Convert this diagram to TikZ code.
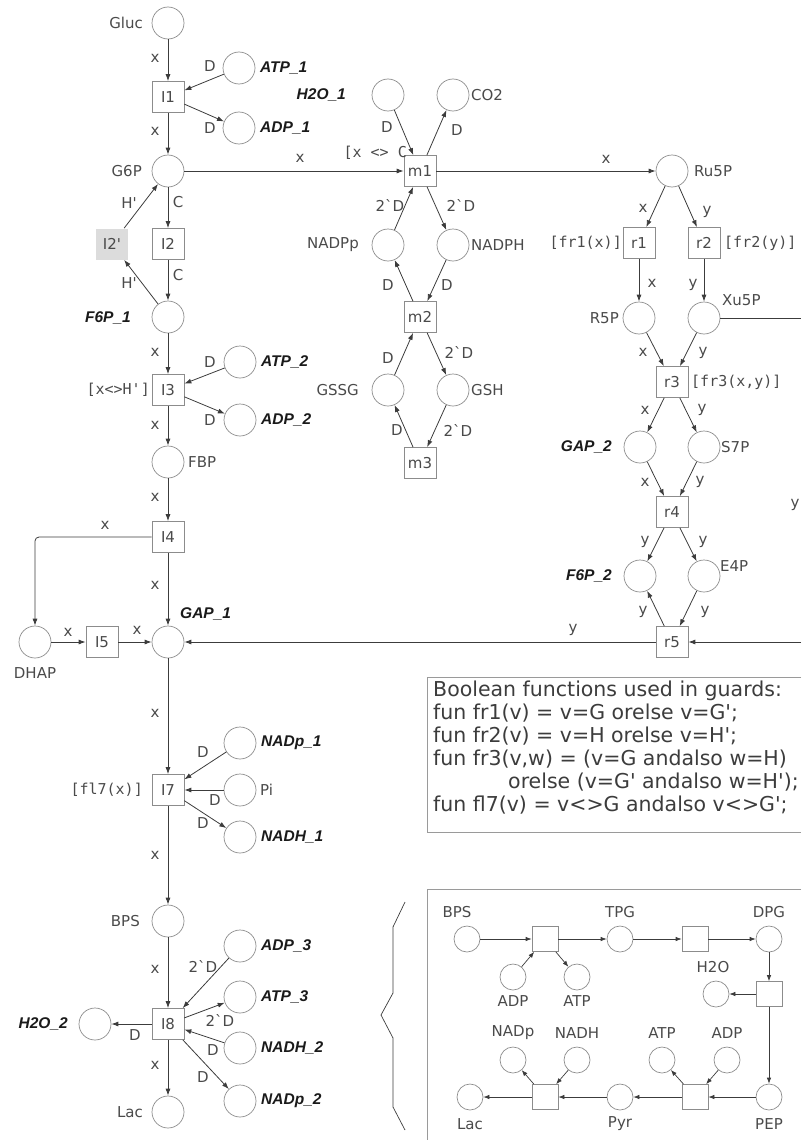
\documentclass[tikz,border=0pt]{standalone}
\usepackage{fontspec}
\newfontfamily\labfam{DejaVu Sans}
\newfontfamily\bifam{Liberation Sans}
\newfontfamily\monofam{DejaVu Sans Mono}
\usetikzlibrary{arrows.meta}
\definecolor{placec}{HTML}{8C8C8C}
\definecolor{transc}{HTML}{8C8C8C}
\definecolor{arcc}{HTML}{3C3C3C}
\definecolor{txt}{HTML}{4A4A4A}
\definecolor{dark}{HTML}{1A1A1A}
\definecolor{grayfill}{HTML}{DCDCDC}
\definecolor{boxc}{HTML}{9A9A9A}
\newcommand\labfont{\labfam\fontsize{15}{17}\selectfont}
\newcommand\bilabfont{\bifam\bfseries\itshape\fontsize{15.5}{17}\selectfont}
\newcommand\guardfont{\monofam\fontsize{15}{17}\selectfont}
\newcommand\boolfont{\labfam\fontsize{20.5}{23}\selectfont}
\begin{document}
\begin{tikzpicture}[x=1pt,y=-1pt,
  place/.style={circle,draw=placec,minimum size=32pt,inner sep=0pt,line width=0.7pt},
  splace/.style={circle,draw=placec,minimum size=26pt,inner sep=0pt,line width=0.7pt},
  trans/.style={rectangle,draw=transc,minimum width=32pt,minimum height=31pt,inner sep=0pt,line width=0.7pt,font=\labfont,text=txt},
  strans/.style={rectangle,draw=transc,minimum width=26pt,minimum height=25pt,inner sep=0pt,line width=0.7pt},
  lab/.style={font=\labfont,text=txt,inner sep=0pt},
  blab/.style={font=\bilabfont,text=dark,inner sep=0pt},
  guard/.style={font=\guardfont,text=txt,inner sep=0pt},
  arc/.style={draw=arcc,line width=0.8pt,-{Latex[length=7pt,width=5pt]}},
  sarc/.style={draw=arcc,line width=0.7pt,-{Latex[length=6pt,width=4.5pt]}},
  plain/.style={draw=arcc,line width=0.8pt}]
\useasboundingbox (0,0) rectangle (801,1140);

% ---------------- main column (glycolysis) ----------------
\node[place] (Gluc) at (168,23) {};
\node[lab,anchor=east] (LGluc) at (143,23) {Gluc};
\node[trans] (I1) at (168,97) {I1};
\node[place] (ATP1) at (239,68) {};
\node[blab,anchor=west] (LATP1) at (260,68) {ATP\_1};
\node[place] (ADP1) at (239,128) {};
\node[blab,anchor=west] (LADP1) at (260,128) {ADP\_1};
\node[place] (G6P) at (168,171) {};
\node[lab,anchor=east] (LG6P) at (142,171) {G6P};
\node[trans,fill=grayfill,draw=none] (I2p) at (112,244) {I2'};
\node[trans] (I2) at (168,244) {I2};
\node[place] (F6P1) at (168,317) {};
\node[blab,anchor=east] (LF6P1) at (131,318) {F6P\_1};
\node[trans] (I3) at (168,390) {I3};
\node[guard,anchor=east] (GI3) at (150,390) {[x<>H']};
\node[place] (ATP2) at (240,362) {};
\node[blab,anchor=west] (LATP2) at (261,362) {ATP\_2};
\node[place] (ADP2) at (240,420) {};
\node[blab,anchor=west] (LADP2) at (261,420) {ADP\_2};
\node[place] (FBP) at (168,462) {};
\node[lab,anchor=west] (LFBP) at (188,462) {FBP};
\node[trans] (I4) at (168,537) {I4};
\node[place] (GAP1) at (168,642) {};
\node[blab,anchor=west] (LGAP1) at (180,614) {GAP\_1};
\node[trans] (I5) at (102,642) {I5};
\node[place] (DHAP) at (35,642) {};
\node[lab] (LDHAP) at (35,673) {DHAP};
\node[trans] (I7) at (168,790) {I7};
\node[guard,anchor=east] (GI7) at (143,790) {[fl7(x)]};
\node[place] (NADp1) at (240,743) {};
\node[blab,anchor=west] (LNADp1) at (261,743) {NADp\_1};
\node[place] (Pi) at (240,790) {};
\node[lab,anchor=west] (LPi) at (260,790) {Pi};
\node[place] (NADH1) at (240,837) {};
\node[blab,anchor=west] (LNADH1) at (261,837) {NADH\_1};
\node[place] (BPS) at (168,921) {};
\node[lab,anchor=east] (LBPS) at (140,921) {BPS};
\node[trans] (I8) at (168,1024) {I8};
\node[place] (ADP3) at (240,946) {};
\node[blab,anchor=west] (LADP3) at (261,946) {ADP\_3};
\node[place] (ATP3) at (240,997) {};
\node[blab,anchor=west] (LATP3) at (261,997) {ATP\_3};
\node[place] (NADH2) at (240,1048) {};
\node[blab,anchor=west] (LNADH2) at (261,1048) {NADH\_2};
\node[place] (NADp2) at (240,1101) {};
\node[blab,anchor=west] (LNADp2) at (261,1101) {NADp\_2};
\node[place] (H2O2) at (95,1024) {};
\node[blab,anchor=east] (LH2O2) at (68,1024) {H2O\_2};
\node[place] (Lac) at (168,1112) {};
\node[lab,anchor=east] (LLac) at (143,1112) {Lac};

% ---------------- middle column ----------------
\node[place] (H2O1) at (388,95) {};
\node[blab,anchor=east] (LH2O1) at (346,95) {H2O\_1};
\node[place] (CO2) at (453,95) {};
\node[lab,anchor=west] (LCO2) at (471,95) {CO2};
\node[trans] (m1) at (420,171) {m1};
\node[guard,anchor=east] (Gm1) at (407,153) {[x <> C};
\node[place] (NADPp) at (388,245) {};
\node[lab,anchor=east] (LNADPp) at (359,245) {NADPp};
\node[place] (NADPH) at (453,245) {};
\node[lab,anchor=west] (LNADPH) at (471,245) {NADPH};
\node[trans] (m2) at (420,317) {m2};
\node[place] (GSSG) at (388,390) {};
\node[lab,anchor=east] (LGSSG) at (359,390) {GSSG};
\node[place] (GSH) at (453,390) {};
\node[lab,anchor=west] (LGSH) at (471,390) {GSH};
\node[trans] (m3) at (420,463) {m3};

% ---------------- right column ----------------
\node[place] (Ru5P) at (672,171) {};
\node[lab,anchor=west] (LRu5P) at (694,171) {Ru5P};
\node[trans] (r1) at (639,243) {r1};
\node[guard,anchor=east] (Gr1) at (622,243) {[fr1(x)]};
\node[trans] (r2) at (704,243) {r2};
\node[guard,anchor=west] (Gr2) at (724,243) {[fr2(y)]};
\node[place] (R5P) at (639,318) {};
\node[lab,anchor=east] (LR5P) at (619,318) {R5P};
\node[place] (Xu5P) at (704,318) {};
\node[lab,anchor=west] (LXu5P) at (722,300) {Xu5P};
\node[trans] (r3) at (672,382) {r3};
\node[guard,anchor=west] (Gr3) at (691,382) {[fr3(x,y)]};
\node[place] (GAP2) at (640,447) {};
\node[blab,anchor=east] (LGAP2) at (612,447) {GAP\_2};
\node[place] (S7P) at (704,447) {};
\node[lab,anchor=west] (LS7P) at (721,447) {S7P};
\node[trans] (r4) at (672,512) {r4};
\node[place] (F6P2) at (640,576) {};
\node[blab,anchor=east] (LF6P2) at (612,576) {F6P\_2};
\node[place] (E4P) at (704,576) {};
\node[lab,anchor=west] (LE4P) at (720,566) {E4P};
\node[trans] (r5) at (672,642) {r5};
\coordinate (XuOut) at (801,318);
\coordinate (R5in) at (801,642);

% ---------------- arcs: main column ----------------
\draw[arc] (Gluc) -- (I1);
\draw[arc] (ATP1) -- (I1);
\draw[arc] (I1) -- (ADP1);
\draw[arc] (I1) -- (G6P);
\draw[arc] (G6P) -- (I2);
\draw[arc] (I2) -- (F6P1);
\draw[arc] (F6P1) -- (I2p);
\draw[arc] (I2p) -- (G6P);
\draw[arc] (F6P1) -- (I3);
\draw[arc] (ATP2) -- (I3);
\draw[arc] (I3) -- (ADP2);
\draw[arc] (I3) -- (FBP);
\draw[arc] (FBP) -- (I4);
\draw[arc] (I4) -- (GAP1);
\draw[arc,rounded corners=4pt] (I4.west) -| (DHAP.north);
\draw[arc] (DHAP) -- (I5);
\draw[arc] (I5) -- (GAP1);
\draw[arc] (r5) -- (GAP1);
\draw[arc] (GAP1) -- (I7);
\draw[arc] (NADp1) -- (I7);
\draw[arc] (Pi) -- (I7);
\draw[arc] (I7) -- (NADH1);
\draw[arc] (I7) -- (BPS);
\draw[arc] (BPS) -- (I8);
\draw[arc] (ADP3) -- (I8);
\draw[arc] (I8) -- (ATP3);
\draw[arc] (NADH2) -- (I8);
\draw[arc] (I8) -- (NADp2);
\draw[arc] (I8) -- (H2O2);
\draw[arc] (I8) -- (Lac);

% ---------------- arcs: middle ----------------
\draw[arc] (G6P) -- (m1);
\draw[arc] (m1) -- (Ru5P);
\draw[arc] (H2O1) -- (m1);
\draw[arc] (m1) -- (CO2);
\draw[arc] (NADPp) -- (m1);
\draw[arc] (m1) -- (NADPH);
\draw[arc] (m2) -- (NADPp);
\draw[arc] (NADPH) -- (m2);
\draw[arc] (GSSG) -- (m2);
\draw[arc] (m2) -- (GSH);
\draw[arc] (m3) -- (GSSG);
\draw[arc] (GSH) -- (m3);

% ---------------- arcs: right ----------------
\draw[arc] (Ru5P) -- (r1);
\draw[arc] (Ru5P) -- (r2);
\draw[arc] (r1) -- (R5P);
\draw[arc] (r2) -- (Xu5P);
\draw[arc] (R5P) -- (r3);
\draw[arc] (Xu5P) -- (r3);
\draw[arc] (r3) -- (GAP2);
\draw[arc] (r3) -- (S7P);
\draw[arc] (GAP2) -- (r4);
\draw[arc] (S7P) -- (r4);
\draw[arc] (r4) -- (F6P2);
\draw[arc] (r4) -- (E4P);
\draw[arc] (r5) -- (F6P2);
\draw[arc] (E4P) -- (r5);
\draw[plain] (Xu5P) -- (XuOut);
\draw[arc] (R5in) -- (r5);

% ---------------- arc inscriptions ----------------
\node[lab] (a1) at (155,58) {x};
\node[lab] (a2) at (210,66) {D};
\node[lab] (a3) at (210,128) {D};
\node[lab] (a4) at (155,131) {x};
\node[lab] (a5) at (178,202) {C};
\node[lab] (a6) at (178,275) {C};
\node[lab] (a7) at (129,203) {H'};
\node[lab] (a8) at (129,283) {H'};
\node[lab] (a9) at (155,352) {x};
\node[lab] (a10) at (210,362) {D};
\node[lab] (a11) at (210,420) {D};
\node[lab] (a12) at (155,425) {x};
\node[lab] (a13) at (155,497) {x};
\node[lab] (a14) at (105,525) {x};
\node[lab] (a15) at (155,585) {x};
\node[lab] (a16) at (68,632) {x};
\node[lab] (a17) at (137,630) {x};
\node[lab] (a18) at (573,630) {y};
\node[lab] (a19) at (155,713) {x};
\node[lab] (a20) at (203,752) {D};
\node[lab] (a21) at (215,800) {D};
\node[lab] (a22) at (203,823) {D};
\node[lab] (a23) at (155,855) {x};
\node[lab] (a24) at (155,969) {x};
\node[lab] (a25) at (203,966) {2`D};
\node[lab] (a26) at (220,1020) {2`D};
\node[lab] (a27) at (213,1050) {D};
\node[lab] (a28) at (203,1077) {D};
\node[lab] (a29) at (135,1035) {D};
\node[lab] (a30) at (155,1065) {x};
\node[lab] (b1) at (387,127) {D};
\node[lab] (b2) at (457,130) {D};
\node[lab] (b3) at (390,205) {2`D};
\node[lab] (b4) at (461,205) {2`D};
\node[lab] (b5) at (388,285) {D};
\node[lab] (b6) at (447,285) {D};
\node[lab] (b7) at (388,358) {D};
\node[lab] (b8) at (459,352) {2`D};
\node[lab] (b9) at (397,430) {D};
\node[lab] (b10) at (458,430) {2`D};
\node[lab] (b11) at (300,158) {x};
\node[lab] (b12) at (606,159) {x};
\node[lab] (c1) at (643,208) {x};
\node[lab] (c2) at (707,212) {y};
\node[lab] (c3) at (652,283) {x};
\node[lab] (c4) at (693,285) {y};
\node[lab] (c5) at (643,352) {x};
\node[lab] (c6) at (703,353) {y};
\node[lab] (c7) at (645,410) {x};
\node[lab] (c8) at (702,410) {y};
\node[lab] (c9) at (645,482) {x};
\node[lab] (c10) at (700,482) {y};
\node[lab] (c11) at (645,542) {y};
\node[lab] (c12) at (703,542) {y};
\node[lab] (c13) at (643,612) {y};
\node[lab] (c14) at (705,612) {y};
\node[lab] (c15) at (795,505) {y};

% ---------------- Boolean functions box ----------------
\draw[draw=boxc,line width=0.9pt] (801,677) -- (427,677) -- (427,832) -- (801,832);
\node[font=\boolfont,text=dark!85,align=left,anchor=north west,inner sep=0pt] (bool) at (433,681)
 {Boolean functions used in guards:\\
  fun fr1(v) = v=G orelse v=G';\\
  fun fr2(v) = v=H orelse v=H';\\
  fun fr3(v,w) = (v=G andalso w=H)\\
  \hspace*{75pt}orelse (v=G' andalso w=H');\\
  fun fl7(v) = v<>G andalso v<>G';};

% ---------------- brace ----------------
\draw[plain,line width=0.7pt] (405,902) -- (393,927) -- (393,993) -- (381,1015) -- (393,1038) -- (393,1107) -- (405,1130);

% ---------------- inset (lower glycolysis) ----------------
\draw[draw=boxc,line width=0.9pt] (801,889) -- (427,889) -- (427,1140);
\node[splace] (iBPS) at (467,939) {};
\node[lab] (LiBPS) at (457,912) {BPS};
\node[strans] (it1) at (545,939) {};
\node[splace] (iTPG) at (620,939) {};
\node[lab] (LiTPG) at (620,912) {TPG};
\node[strans] (it2) at (695,939) {};
\node[splace] (iDPG) at (769,939) {};
\node[lab] (LiDPG) at (769,912) {DPG};
\node[splace] (iADP) at (513,977) {};
\node[lab] (LiADP) at (513,1001) {ADP};
\node[splace] (iATP) at (577,977) {};
\node[lab] (LiATP) at (577,1001) {ATP};
\node[strans] (it3) at (769,994) {};
\node[splace] (iH2O) at (716,994) {};
\node[lab] (LiH2O) at (713,967) {H2O};
\node[splace] (iNADp) at (513,1060) {};
\node[lab] (LiNADp) at (513,1033) {NADp};
\node[splace] (iNADH) at (577,1060) {};
\node[lab] (LiNADH) at (577,1033) {NADH};
\node[splace] (iATP2) at (662,1060) {};
\node[lab] (LiATP2) at (662,1033) {ATP};
\node[splace] (iADP2) at (727,1060) {};
\node[lab] (LiADP2) at (727,1033) {ADP};
\node[splace] (iLac) at (470,1097) {};
\node[lab] (LiLac) at (470,1124) {Lac};
\node[strans] (it4) at (545,1097) {};
\node[splace] (iPyr) at (620,1097) {};
\node[lab] (LiPyr) at (620,1124) {Pyr};
\node[strans] (it5) at (695,1097) {};
\node[splace] (iPEP) at (769,1097) {};
\node[lab] (LiPEP) at (769,1124) {PEP};

\draw[sarc] (iBPS) -- (it1);
\draw[sarc] (it1) -- (iTPG);
\draw[sarc] (iTPG) -- (it2);
\draw[sarc] (it2) -- (iDPG);
\draw[sarc] (iADP) -- (it1);
\draw[sarc] (it1) -- (iATP);
\draw[sarc] (iDPG) -- (it3);
\draw[sarc] (it3) -- (iH2O);
\draw[sarc] (it3) -- (iPEP);
\draw[sarc] (iPEP) -- (it5);
\draw[sarc] (it5) -- (iPyr);
\draw[sarc] (it5) -- (iATP2);
\draw[sarc] (iADP2) -- (it5);
\draw[sarc] (iPyr) -- (it4);
\draw[sarc] (it4) -- (iLac);
\draw[sarc] (it4) -- (iNADp);
\draw[sarc] (iNADH) -- (it4);
\end{tikzpicture}
\end{document}
